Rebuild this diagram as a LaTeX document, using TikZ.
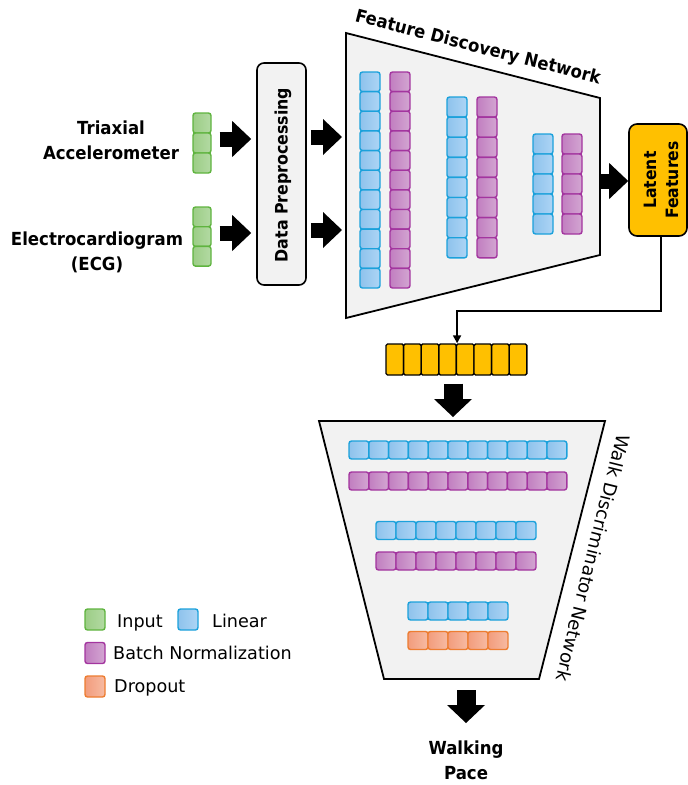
\documentclass[tikz,border=0pt]{standalone}
\usepackage{fontspec}
\setmainfont{DejaVu Sans}
\newfontfamily\lblfont{DejaVu Sans}[FakeStretch=0.92]
\usetikzlibrary{arrows.meta,calc}

\definecolor{ingreen}{HTML}{5FB43F}
\definecolor{ingL}{HTML}{9CCD86}
\definecolor{ingR}{HTML}{B3DAA3}
\definecolor{linblue}{HTML}{1BA1DB}
\definecolor{linL}{HTML}{8EC2EC}
\definecolor{linR}{HTML}{ADD5F5}
\definecolor{bnpurple}{HTML}{A3359F}
\definecolor{bnL}{HTML}{C17EC0}
\definecolor{bnR}{HTML}{D3A6D2}
\definecolor{droporange}{HTML}{ED7D31}
\definecolor{dropL}{HTML}{F29C7C}
\definecolor{dropR}{HTML}{F7BBA3}
\definecolor{latyellow}{HTML}{FFC000}
\definecolor{netgray}{HTML}{F2F2F2}

% a vertical stack of cells: name, style, x centre, y top, width, height, count
\newcommand\cellcol[7]{%
  \foreach \i in {1,...,#7}{%
    \node[#2, minimum width=#5pt, minimum height=#6pt] (#1-\i) at (#3, {#4+(\i-0.5)*#6}) {};
  }}
% a horizontal row of cells: name, style, x left, y centre, width, height, count
\newcommand\cellrow[7]{%
  \foreach \i in {1,...,#7}{%
    \node[#2, minimum width=#5pt, minimum height=#6pt] (#1-\i) at ({#3+(\i-0.5)*#5}, #4) {};
  }}

\tikzset{
  cellbase/.style={draw, rounded corners=2.5pt, line width=1.4pt, inner sep=0pt},
  incell/.style={cellbase, draw=ingreen, left color=ingL, right color=ingR},
  lincell/.style={cellbase, draw=linblue, left color=linL, right color=linR},
  bncell/.style={cellbase, draw=bnpurple, left color=bnL, right color=bnR},
  dropcell/.style={cellbase, draw=droporange, left color=dropL, right color=dropR},
  latcell/.style={cellbase, draw=black, fill=latyellow, rounded corners=1.5pt},
  lbl/.style={font=\lblfont\fontsize{18}{25}\selectfont\bfseries, align=center, inner sep=0pt},
  legtxt/.style={font=\fontsize{17.6}{20}\selectfont, anchor=base west, inner sep=0pt},
  net/.style={draw=black, fill=netgray, line width=1.8pt, line join=miter},
  barrow/.style={line width=15pt, -{Triangle[width=36pt,length=19pt,line width=0pt]}},
  barrowv/.style={line width=19pt, -{Triangle[width=38pt,length=18pt,line width=0pt]}},
  link/.style={line width=1.8pt, -{Triangle[width=8pt,length=8pt]}},
}

\begin{document}
\begin{tikzpicture}[x=1pt,y=-1pt]
\useasboundingbox (0,0) rectangle (688,785);

% ---------- inputs ----------
\node[lbl] (tri) at (111,140) {Triaxial\\Accelerometer};
\node[lbl] (ecg) at (97,252) {Electrocardiogram\\(ECG)};
\cellcol{gA}{incell}{202}{113}{18}{20}{3}
\cellcol{gB}{incell}{202}{207}{18}{19.7}{3}

% ---------- data preprocessing ----------
\node[draw, line width=1.6pt, fill=netgray, rounded corners=7pt,
      minimum width=49pt, minimum height=222pt, inner sep=0pt] (dp) at (281.5,174) {};
\node[lbl, rotate=90, font=\lblfont\fontsize{17.2}{22}\selectfont\bfseries] (dptxt) at (283,175) {Data Preprocessing};

% ---------- feature discovery network ----------
\coordinate (fTL) at (346,33);
\coordinate (fTR) at (600,98);
\coordinate (fBR) at (600,255);
\coordinate (fBL) at (346,318);
\draw[net] (fTL) -- (fTR) -- (fBR) -- (fBL) -- cycle;
\node[font=\lblfont\fontsize{17.9}{20}\selectfont\bfseries, rotate=-14.4, inner sep=0pt]
      (fdnlbl) at (478,48) {Feature Discovery Network};

\cellcol{f1b}{lincell}{370}{72}{20}{19.64}{11}
\cellcol{f1p}{bncell}{400}{72}{20}{19.64}{11}
\cellcol{f2b}{lincell}{457}{97}{20}{20.1}{8}
\cellcol{f2p}{bncell}{487}{97}{20}{20.1}{8}
\cellcol{f3b}{lincell}{543}{134}{20}{20}{5}
\cellcol{f3p}{bncell}{572}{134}{20}{20}{5}

% ---------- latent features ----------
\node[draw, line width=1.6pt, fill=latyellow, rounded corners=8pt,
      minimum width=58pt, minimum height=112pt, inner sep=0pt] (lat) at (658,180) {};
\node[lbl, rotate=90, font=\lblfont\fontsize{17}{22}\selectfont\bfseries] (lattxt) at (661,180) {Latent\\Features};

% ---------- latent vector ----------
\cellrow{bar}{latcell}{386}{359.5}{17.6}{31}{8}

% ---------- walk discriminator network ----------
\coordinate (wTL) at (319,421);
\coordinate (wTR) at (605,421);
\coordinate (wBR) at (539,679);
\coordinate (wBL) at (384,679);
\draw[net] (wTL) -- (wTR) -- (wBR) -- (wBL) -- cycle;
\node[font=\fontsize{18.2}{20}\selectfont, rotate=-104, inner sep=0pt]
      (wdnlbl) at (593,558) {Walk Discriminator Network};

\cellrow{w1b}{lincell}{349}{450}{19.8}{18}{11}
\cellrow{w1p}{bncell}{349}{481}{19.8}{18}{11}
\cellrow{w2b}{lincell}{376}{530.5}{20}{18}{8}
\cellrow{w2p}{bncell}{376}{561}{20}{18}{8}
\cellrow{w3b}{lincell}{408}{611}{20}{18}{5}
\cellrow{w3o}{dropcell}{408}{640.5}{20}{18}{5}

\node[lbl] (pace) at (466,760) {Walking\\Pace};

% ---------- block arrows ----------
\coordinate (y1) at (0,139);
\coordinate (y2) at (0,233);
\coordinate (y3) at (0,137);
\coordinate (y4) at (0,230);
\coordinate (y5) at (0,181);
\coordinate (x6) at (453,0);
\coordinate (x7) at (466,0);
\coordinate (a7e) at (466,723);

\draw[barrow] ([xshift=8pt]gA-2.east |- y1) -- ([xshift=-5pt]dp.west |- y1);
\draw[barrow] ([xshift=8pt]gB-2.east |- y2) -- ([xshift=-5pt]dp.west |- y2);
\draw[barrow] ([xshift=4pt]dp.east |- y3) -- ([xshift=-4pt]fTL |- y3);
\draw[barrow] ([xshift=4pt]dp.east |- y4) -- ([xshift=-4pt]fTL |- y4);
\draw[barrow] ([xshift=1pt]fTR |- y5) -- (lat.west |- y5);
\draw[barrowv] ([yshift=-8pt]bar-1.south -| x6) -- ([yshift=4pt]wTL -| x6);
\draw[barrowv] ([yshift=-11pt]wBL -| x7) -- (a7e);

% ---------- latent link ----------
\coordinate (turnA) at (661,311);
\coordinate (turnB) at (457,311);
\draw[link] (turnA |- lat.south) -- (turnA) -- (turnB) -- (bar-4.north east);

% ---------- legend ----------
\node[incell, minimum width=20pt, minimum height=21pt] (lgIn) at (95,619.5) {};
\node[legtxt] (lgInT) at (117,627) {Input};
\node[lincell, minimum width=20pt, minimum height=21pt] (lgLin) at (188,619.5) {};
\node[legtxt] (lgLinT) at (212,627) {Linear};
\node[bncell, minimum width=20pt, minimum height=21pt] (lgBn) at (95,653) {};
\node[legtxt] (lgBnT) at (113,659) {Batch Normalization};
\node[dropcell, minimum width=20pt, minimum height=21pt] (lgDr) at (95,686.5) {};
\node[legtxt] (lgDrT) at (114,692) {Dropout};
\end{tikzpicture}
\end{document}
